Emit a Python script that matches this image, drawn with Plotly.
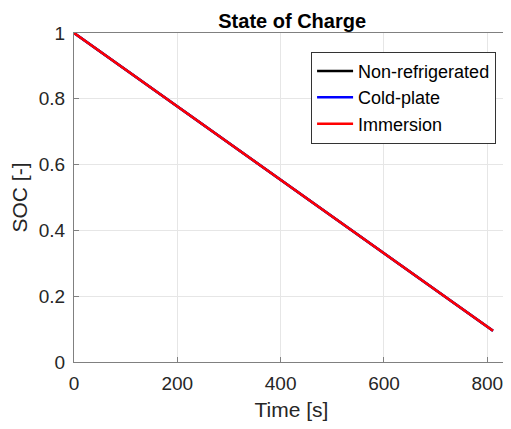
import plotly.graph_objects as go

time_s = [0, 200, 400, 600, 811]
soc_nonref = [1.0, 0.777, 0.554, 0.331, 0.095]
soc_coldplate = [1.0, 0.777, 0.554, 0.331, 0.095]
soc_immersion = [1.0, 0.777, 0.554, 0.331, 0.095]
series_names = ["Non-refrigerated", "Cold-plate", "Immersion"]
series_colors = ["#000000", "#0000FF", "#FF0000"]

fig = go.Figure()
for name, vals, col in zip(series_names, [soc_nonref, soc_coldplate, soc_immersion], series_colors):
    fig.add_trace(go.Scatter(x=time_s, y=vals, mode="lines", name=name,
                             line=dict(color=col, width=2.5)))

font_family = "Liberation Sans, Arial, sans-serif"
fig.update_layout(
    width=503, height=413,
    margin=dict(l=66, r=2, t=25, b=59, autoexpand=False),
    paper_bgcolor="white", plot_bgcolor="white",
    font=dict(family=font_family, color="#262626"),
    title=dict(text="<b>State of Charge</b>", x=0.565, xanchor="center", y=0.969, yanchor="middle",
               font=dict(size=20, color="black", family=font_family)),
    showlegend=True,
    legend=dict(x=0.545, y=0.943, xanchor="left", yanchor="top",
                bgcolor="white", bordercolor="#333333", borderwidth=1,
                font=dict(size=18, color="black", family=font_family),
                tracegroupgap=0, itemwidth=36),
)
fig.update_xaxes(range=[0, 842], tickvals=[0, 200, 400, 600, 800],
                 showgrid=True, gridcolor="#e6e6e6", gridwidth=1,
                 showline=True, linecolor="#808080", linewidth=1, mirror=True,
                 ticks="inside", ticklen=5, tickcolor="#808080",
                 tickfont=dict(size=19, color="#262626"), zeroline=False,
                 ticklabelstandoff=4,
                 title=dict(text="Time [s]", font=dict(size=21, color="#262626"), standoff=9))
fig.update_yaxes(range=[0, 1], tickvals=[0, 0.2, 0.4, 0.6, 0.8, 1],
                 ticktext=["0", "0.2", "0.4", "0.6", "0.8", "1"],
                 showgrid=True, gridcolor="#e6e6e6", gridwidth=1,
                 showline=True, linecolor="#808080", linewidth=1, mirror=True,
                 ticks="inside", ticklen=5, tickcolor="#808080",
                 tickfont=dict(size=19, color="#262626"), zeroline=False,
                 ticklabelstandoff=4,
                 title=dict(text="SOC [-]", font=dict(size=21, color="#262626"), standoff=6))

fig.write_html("out.html")
